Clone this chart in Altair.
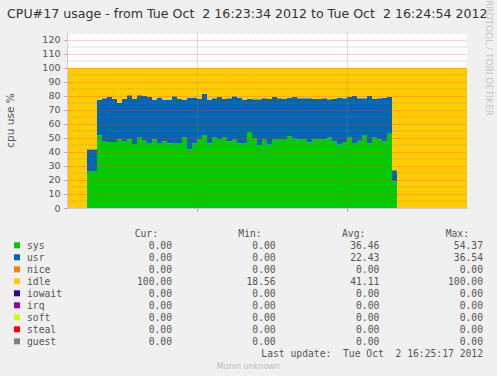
import altair as alt
import pandas as pd

# ---------------- data ----------------
series_names = ["sys", "usr", "nice", "idle", "iowait", "irq", "soft", "steal", "guest"]
series_colors = ["#00CC00", "#0066B3", "#FF8000", "#FFCC00", "#330099",
                 "#990099", "#CCFF00", "#FF0000", "#808080"]

# one sample per second, 16:23:34 .. 16:24:54
sys_vals = [0, 0, 0, 0, 26.5, 26.5, 52.0, 47.9, 47.1, 47.1,
            49.0, 47.9, 49.0, 45.7, 50.7, 48.0, 46.4, 49.0, 46.4, 47.6,
            46.0, 46.4, 46.4, 50.7, 42.0, 46.0, 49.3, 52.1, 46.0, 50.7,
            49.3, 50.7, 47.6, 48.8, 46.0, 46.4, 54.3, 50.0, 44.8, 48.8,
            45.2, 48.8, 49.3, 49.3, 51.4, 49.5, 49.3, 49.3, 46.7, 49.3,
            49.0, 49.3, 50.7, 47.6, 45.2, 47.1, 50.7, 46.4, 48.0, 52.1,
            46.0, 50.7, 49.0, 47.6, 53.1, 19.0, 0, 0, 0, 0,
            0, 0, 0, 0, 0, 0, 0, 0, 0, 0]
usr_vals = [0, 0, 0, 0, 15.5, 15.5, 25.1, 30.4, 32.2, 30.8,
            26.2, 30.0, 31.5, 32.2, 29.8, 32.0, 32.9, 28.1, 32.6, 29.5,
            31.1, 33.4, 31.5, 26.4, 36.5, 33.0, 28.6, 29.3, 31.1, 27.6,
            30.0, 27.2, 30.7, 31.0, 32.5, 30.7, 23.7, 27.6, 32.8, 29.5,
            32.7, 30.5, 29.0, 28.6, 27.4, 29.8, 29.0, 29.0, 31.6, 28.6,
            28.9, 29.0, 26.9, 30.3, 33.6, 31.2, 28.6, 33.6, 30.3, 26.2,
            34.0, 27.2, 29.3, 31.2, 26.2, 8.0, 0, 0, 0, 0,
            0, 0, 0, 0, 0, 0, 0, 0, 0, 0]

stat_headers = ["Cur:", "Min:", "Avg:", "Max:"]
cur_vals = ["0.00", "0.00", "0.00", "100.00", "0.00", "0.00", "0.00", "0.00", "0.00"]
min_vals = ["0.00", "0.00", "0.00", "18.56", "0.00", "0.00", "0.00", "0.00", "0.00"]
avg_vals = ["36.46", "22.43", "0.00", "41.11", "0.00", "0.00", "0.00", "0.00", "0.00"]
max_vals = ["54.37", "36.54", "0.00", "100.00", "0.00", "0.00", "0.00", "0.00", "0.00"]

y_major_ticks = [0, 10, 20, 30, 40, 50, 60, 70, 80, 90, 100, 110, 120]
y_minor_ticks = [5, 15, 25, 35, 45, 55, 65, 75, 85, 95, 105, 115, 125]
x_grid_seconds = [26, 56]  # 16:24:00 and 16:24:30

title_text = "CPU#17 usage - from Tue Oct\u00a0 2 16:23:34 2012 to Tue Oct\u00a0 2 16:24:54 2012"
update_text = "Last update:\u00a0 Tue Oct\u00a0 2 16:25:17 2012"
footer_text = "Munin unknown"
watermark_text = "RRDTOOL / TOBI OETIKER"

# ---------------- tables ----------------
rows = []
n = len(sys_vals)
for i in range(n + 1):
    k = min(i, n - 1)
    s, u = sys_vals[k], usr_vals[k]
    rows.append({"t": i, "series": "sys", "idx": 0, "v": s})
    rows.append({"t": i, "series": "usr", "idx": 1, "v": u})
    rows.append({"t": i, "series": "idle", "idx": 3, "v": 100 - s - u})
area_df = pd.DataFrame(rows)

row_domain = ["hdr"] + series_names + ["upd", "mun"]

cells = []
for j, name in enumerate(series_names):
    for stat, arr in zip(stat_headers, [cur_vals, min_vals, avg_vals, max_vals]):
        cells.append({"row": name, "stat": stat, "txt": arr[j]})
cells_df = pd.DataFrame(cells)
header_df = pd.DataFrame({"row": ["hdr"] * 4, "stat": stat_headers, "txt": stat_headers})
names_df = pd.DataFrame({"row": series_names, "txt": series_names})
update_df = pd.DataFrame({"row": ["upd"], "stat": ["Max:"], "txt": [update_text]})
footer_df = pd.DataFrame({"row": ["mun"], "txt": [footer_text]})

color_scale = alt.Scale(domain=series_names, range=series_colors)
x_scale = alt.Scale(domain=[0, 80], nice=False, zero=False)
y_scale = alt.Scale(domain=[0, 125.7], nice=False)

AX = "#C8C8F0"
MONO = "DejaVu Sans Mono"
SANS = "DejaVu Sans"
TXT = "#555555"

y_axis = alt.Axis(values=y_major_ticks, grid=True, gridColor="#FF4040",
                  gridOpacity=0.5, gridDash=[1, 1], tickSize=3,
                  tickColor="#D09090", labelFont=SANS, labelFontSize=9.5,
                  labelColor=TXT, labelPadding=4, labelOverlap=False,
                  labelFlush=False, domainColor=AX,
                  title="cpu use %", titleFont=SANS, titleFontSize=10.5,
                  titleFontWeight="normal", titleColor=TXT, titleX=-56.5,
                  titleY=88, titleAngle=270, titleAlign="center",
                  titleBaseline="middle", zindex=1)

# ---------------- main plot ----------------
area = alt.Chart(area_df).mark_area(interpolate="step-after").encode(
    x=alt.X("t:Q", scale=x_scale,
            axis=alt.Axis(values=x_grid_seconds, labels=False, grid=True,
                          gridColor="#808080", gridOpacity=0.5, gridDash=[1, 1],
                          tickSize=3, tickColor="#E08080", domainColor=AX,
                          title=None, zindex=1)),
    y=alt.Y("v:Q", stack="zero", scale=y_scale, axis=y_axis),
    color=alt.Color("series:N", scale=color_scale, legend=None),
    order=alt.Order("idx:Q", sort="ascending"),
)

minor = alt.Chart(pd.DataFrame({"m": y_minor_ticks})).mark_rule(
    color="#808080", opacity=0.45, strokeDash=[1, 1]
).encode(y=alt.Y("m:Q", scale=y_scale, axis=y_axis))

title = alt.Chart(pd.DataFrame({"txt": [title_text]})).mark_text(
    align="left", baseline="alphabetic", font=SANS, fontSize=12.6, color="#333333"
).encode(text="txt:N", x=alt.value(-60), y=alt.value(-14.3))

watermark = alt.Chart(pd.DataFrame({"txt": [watermark_text]})).mark_text(
    align="center", baseline="middle", angle=90, font=SANS, fontSize=9,
    color="#C4C4C4"
).encode(text="txt:N", x=alt.value(422), y=alt.value(26))

main = alt.layer(area, minor, title, watermark)

# ---------------- legend table ----------------
ty = alt.Scale(type="point", domain=row_domain, range=[205.3, 337.3], padding=0)
tx = alt.Scale(type="point", domain=stat_headers, range=[105, 416], padding=0)

values_layer = alt.Chart(cells_df).mark_text(
    align="right", baseline="alphabetic", font=MONO, fontSize=9.7, color=TXT
).encode(x=alt.X("stat:O", scale=tx, axis=None),
         y=alt.Y("row:O", scale=ty, axis=None), text="txt:N")

header_layer = alt.Chart(header_df).mark_text(
    align="right", baseline="alphabetic", font=MONO, fontSize=9.7, color=TXT, dx=-14
).encode(x=alt.X("stat:O", scale=tx, axis=None),
         y=alt.Y("row:O", scale=ty, axis=None), text="txt:N")

names_layer = alt.Chart(names_df).mark_text(
    align="left", baseline="alphabetic", font=MONO, fontSize=9.7, color=TXT
).encode(x=alt.value(-40), y=alt.Y("row:O", scale=ty, axis=None), text="txt:N")

swatch_layer = alt.Chart(names_df).mark_square(size=36, opacity=1, yOffset=-4).encode(
    x=alt.value(-50), y=alt.Y("row:O", scale=ty, axis=None),
    color=alt.Color("txt:N", scale=color_scale, legend=None))

update_layer = alt.Chart(update_df).mark_text(
    align="right", baseline="alphabetic", font=MONO, fontSize=9.7, color=TXT
).encode(x=alt.X("stat:O", scale=tx, axis=None),
         y=alt.Y("row:O", scale=ty, axis=None), text="txt:N")

footer_layer = alt.Chart(footer_df).mark_text(
    align="center", baseline="alphabetic", font=SANS, fontSize=8, color="#BBBBBB"
).encode(x=alt.value(181.3), y=alt.Y("row:O", scale=ty, axis=None), text="txt:N")

table = alt.layer(values_layer, header_layer, names_layer, swatch_layer,
                  update_layer, footer_layer)

chart = alt.layer(main, table).resolve_scale(
    x="independent", y="independent"
).properties(
    width=400, height=176,
    autosize=alt.AutoSizeParams(type="none"),
    padding={"left": 67, "top": 32, "right": 30, "bottom": 168},
    background="#F0F0F0",
).configure_view(fill="white", strokeWidth=0)

chart.save("out.html", embed_options={"renderer": "svg", "actions": False})
